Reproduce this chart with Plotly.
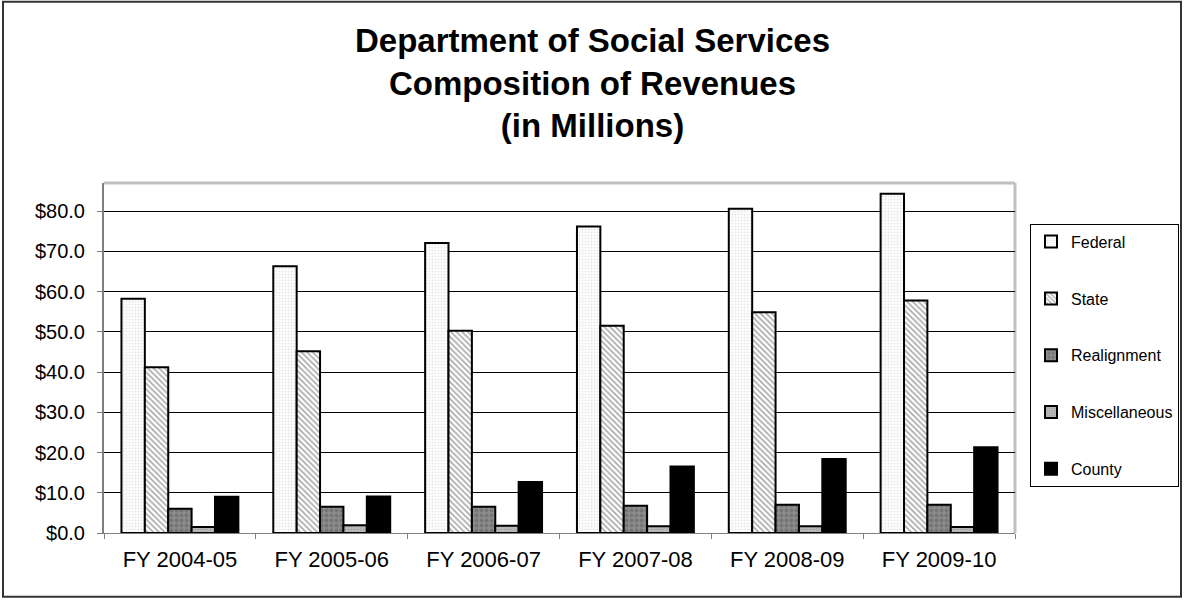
import plotly.graph_objects as go

categories = ["FY 2004-05", "FY 2005-06", "FY 2006-07", "FY 2007-08", "FY 2008-09", "FY 2009-10"]
federal = [58.2, 66.3, 72.1, 76.2, 80.6, 84.3]
state = [41.2, 45.2, 50.3, 51.5, 54.9, 57.8]
realignment = [6.0, 6.5, 6.5, 6.8, 7.0, 7.0]
miscellaneous = [1.5, 1.9, 1.8, 1.7, 1.7, 1.5]
county = [9.0, 9.1, 12.7, 16.5, 18.4, 21.3]

series = [
    ("Federal", federal, dict(shape=".", bgcolor="white", fgcolor="#d2d2d2", size=3, solidity=0.4)),
    ("State", state, dict(shape="\\", bgcolor="white", fgcolor="#5a5a5a", size=4, solidity=0.45)),
    ("Realignment", realignment, dict(shape=".", bgcolor="#8c8c8c", fgcolor="#5e5e5e", size=5, solidity=0.45)),
    ("Miscellaneous", miscellaneous, dict(shape=".", bgcolor="#bcbcbc", fgcolor="#8a8a8a", size=3, solidity=0.4)),
    ("County", county, dict(shape="", bgcolor="black", fgcolor="black")),
]

fig = go.Figure()
for i, (name, vals, pat) in enumerate(series):
    color = "black" if name == "County" else pat["bgcolor"]
    fig.add_trace(go.Bar(
        x=categories, y=vals, name=name, legendgroup=name,
        marker=dict(color=color, line=dict(color="black", width=2), pattern=pat),
    ))

# plot area in pixels: x 104..1015, y 183.3..533.3
L, R, T, B = 104, 1015, 183.3, 533.3
W, H = R - L, B - T
def px(x):
    return (x - L) / W
def py(y):
    return (B - y) / H

fig.update_layout(
    width=1185, height=600,
    margin=dict(l=L, r=1185 - R, t=T, b=600 - B, pad=0, autoexpand=False),
    paper_bgcolor="white", plot_bgcolor="white",
    font=dict(family="Liberation Sans, Arial, sans-serif", color="black"),
    title=dict(
        text="<b>Department of Social Services<br>Composition of Revenues<br>(in Millions)</b>",
        x=0.5, xanchor="center", xref="container",
        y=0.914, yanchor="top", yref="container",
        font=dict(size=33, color="black"),
    ),
    barmode="group", bargap=0.23, bargroupgap=0,
    showlegend=True,
    legend=dict(
        x=px(1030), xanchor="left", y=py(224), yanchor="top",
        bordercolor="black", borderwidth=1, bgcolor="white",
        font=dict(size=16), tracegroupgap=33, traceorder="grouped",
        itemwidth=30,
    ),
    xaxis=dict(
        showgrid=False, showline=True, linecolor="#7f7f7f", linewidth=1,
        ticks="outside", tickson="boundaries", ticklen=5, tickcolor="#7f7f7f",
        tickfont=dict(size=22), zeroline=False, automargin=False,
        ticklabelstandoff=7,
    ),
    yaxis=dict(
        range=[0, 87], dtick=10, tick0=0, tickprefix="$", tickformat=".1f",
        showgrid=True, gridcolor="black", gridwidth=1,
        showline=True, linecolor="#7f7f7f", linewidth=2,
        ticks="outside", ticklen=5, tickcolor="#7f7f7f",
        tickfont=dict(size=20), zeroline=False, automargin=False,
        ticklabelstandoff=8,
    ),
    shapes=[
        dict(type="line", xref="paper", yref="paper", x0=0, x1=1, y0=1, y1=1,
             line=dict(color="#c0c0c0", width=3), layer="above"),
        dict(type="line", xref="paper", yref="paper", x0=1, x1=1, y0=0, y1=1,
             line=dict(color="#c0c0c0", width=3), layer="below"),
        dict(type="rect", xref="paper", yref="paper",
             x0=px(3), x1=px(1181), y0=py(597), y1=py(2),
             line=dict(color="#333333", width=2), fillcolor="rgba(0,0,0,0)", layer="above"),
    ],
)

fig.write_html("out.html", config={"displayModeBar": False},
               post_script="document.body.style.margin='0';")
